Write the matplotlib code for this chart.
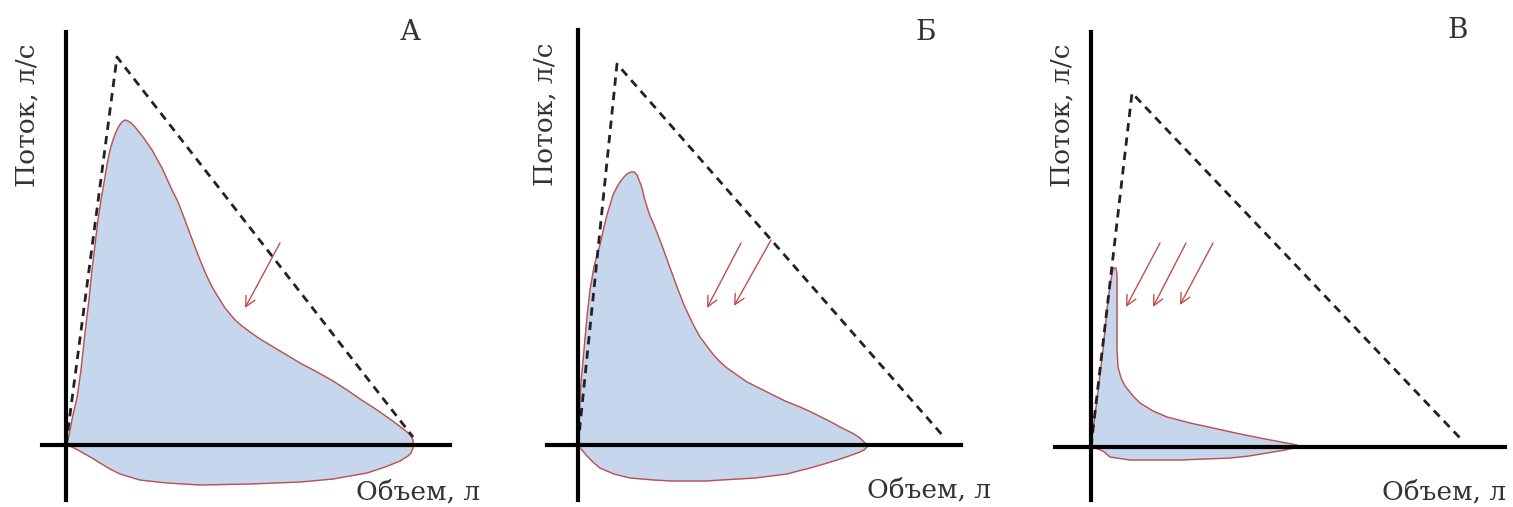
import matplotlib
matplotlib.use('Agg')
import matplotlib.pyplot as plt

# spirogram loops (volume, flow), origin at the axes crossing, arbitrary units
vol_a = [1, 4, 7, 11, 15, 19, 23, 26, 29, 32, 35, 38, 41, 44, 47, 50, 53, 56, 59, 62,
         65, 69, 73, 77, 86, 96, 106, 112, 117, 123, 129, 134, 139, 144, 149, 154, 159, 164,
         169, 176, 184, 194, 204, 219, 234, 251, 267, 281, 294, 308, 321, 332, 341, 345, 347,
         347, 345, 342, 334, 319, 301, 267, 234, 184, 134, 101, 74, 54, 44, 34, 26, 19, 12, 6, 1]
flow_a = [0, 15, 30, 47, 75, 112, 145, 175, 200, 225, 245, 262, 280, 295, 305, 313, 319, 323, 325, 324,
          322, 318, 313, 308, 295, 277, 255, 243, 230, 214, 198, 185, 173, 162, 153, 145, 137, 131,
          125, 119, 113, 106, 100, 91, 82, 73, 64, 55, 46, 37, 28, 20, 13, 9, 5,
          -3, -8, -11, -16, -22, -28, -34, -37, -39, -40, -38, -35, -29, -24, -18, -13, -9, -5, -2, 0]

vol_b = [0, 1, 3, 6, 9, 12, 16, 19, 22, 26, 29, 32, 35, 39, 42, 46, 49, 53, 56, 59,
         61, 64, 66, 69, 72, 76, 83, 91, 99, 106, 113, 117, 122, 128, 134, 141, 149, 159,
         169, 181, 193, 207, 222, 233, 243, 253, 262, 270, 276, 282, 286, 289,
         289, 286, 282, 271, 259, 246, 232, 220, 209, 193, 177, 160, 143, 128, 112, 94,
         76, 64, 52, 44, 36, 29, 22, 16, 12, 8, 5, 2, 0]
flow_b = [0, 25, 62, 95, 128, 155, 178, 190, 200, 218, 230, 240, 250, 258, 263, 268, 271, 273, 273, 270,
          265, 257, 248, 238, 229, 220, 202, 180, 158, 140, 125, 117, 108, 100, 92, 84, 77, 70,
          63, 57, 51, 44, 38, 33, 28, 23, 18, 14, 11, 7, 3, 0,
          -2, -5, -7, -11, -15, -19, -23, -26, -29, -31, -33, -34, -35, -36, -36, -36,
          -35, -34, -33, -31, -29, -26, -23, -18, -14, -10, -6, -3, 0]

vol_c = [0, 2, 6, 9, 12, 16, 19, 22, 23, 25, 26, 26, 26, 26, 27, 30, 34, 42, 49, 62, 76, 99,
         122, 149, 174, 206,
         206, 194, 176, 158, 139, 114, 89, 64, 39, 19, 12, 4, 0]
flow_c = [0, 17, 47, 72, 97, 137, 162, 177, 179, 179, 172, 162, 127, 97, 80, 69, 61, 51, 44, 36, 30, 24,
          19, 13, 8, 2,
          0, -3, -6, -9, -11, -12, -13, -13, -13, -10, -4, -1, 0]

# predicted (normal) triangle: start, peak, end
tri_vol = [[0, 51, 347], [0, 39, 366], [0, 41, 369]]
tri_flow = [[0, 388, 8], [0, 381, 8], [0, 354, 9]]

# arrows: (tail volume, tail flow, head volume, head flow)
arrows = [
    [(214, 202, 179, 137)],
    [(163, 202, 129, 137), (193, 205, 156, 139)],
    [(69, 204, 35, 140), (95, 204, 62, 140), (122, 204, 89, 142)],
]

letters = ['А', 'Б', 'В']
xlabel = 'Объем, л'
ylabel = 'Поток, л/с'

loops = [(vol_a, flow_a), (vol_b, flow_b), (vol_c, flow_c)]

# layout in pixels
W, H = 1513, 507
panel_px = [(0, 504, 66, 445), (504, 1008, 578, 445), (1008, 1513, 1091, 447)]
vbounds = [(-55, 413), (-55, 415), (-53, 415)]
hbounds = [(-24, 384), (-31, 383), (-36, 414)]
ylab_pos = [(-39, 330), (-33, 331), (-29, 332)]
xlab_pos = [(352, -47), (351, -45), (353, -45)]
let_pos = [(344, 413), (348, 413), (367, 417)]

fill_col = '#c6d6ec'
red = '#c0504d'
txt = '#333333'
font = 'DejaVu Serif'

fig = plt.figure(figsize=(W / 100, H / 100), dpi=100)

for i in range(3):
    l, r, x0, y0 = panel_px[i]
    ax = fig.add_axes([l / W, 0, (r - l) / W, 1])
    ax.set_xlim(l - x0, r - x0)
    ax.set_ylim(y0 - H, y0)

    v, f = loops[i]
    ax.fill(v, f, color=fill_col, zorder=1)
    ax.plot(v, f, color=red, lw=1.0, zorder=2, solid_joinstyle='round')
    ax.plot(tri_vol[i], tri_flow[i], color='#222222', lw=2.0, ls=(0, (3, 2.2)), zorder=3)

    for tv, tf, hv, hf in arrows[i]:
        ax.annotate('', xy=(hv, hf), xytext=(tv, tf),
                    arrowprops=dict(arrowstyle='->', color=red, lw=1.0,
                                    mutation_scale=18, shrinkA=0, shrinkB=0))

    for s in ['top', 'right']:
        ax.spines[s].set_color('none')
    ax.spines['left'].set_position(('data', 0))
    ax.spines['bottom'].set_position(('data', 0))
    ax.spines['left'].set_bounds(*vbounds[i])
    ax.spines['bottom'].set_bounds(*hbounds[i])
    ax.spines['left'].set_linewidth(3)
    ax.spines['bottom'].set_linewidth(3)
    ax.spines['left'].set_zorder(4)
    ax.spines['bottom'].set_zorder(4)
    ax.set_xticks([])
    ax.set_yticks([])
    ax.patch.set_alpha(0)

    ax.text(*ylab_pos[i], ylabel, rotation=90, ha='center', va='center',
            fontsize=19, family=font, color=txt)
    ax.text(*xlab_pos[i], xlabel, ha='center', va='center',
            fontsize=19, family=font, color=txt)
    ax.text(*let_pos[i], letters[i], ha='center', va='center',
            fontsize=20, family=font, color=txt)

fig.savefig('out.png', dpi=100)
